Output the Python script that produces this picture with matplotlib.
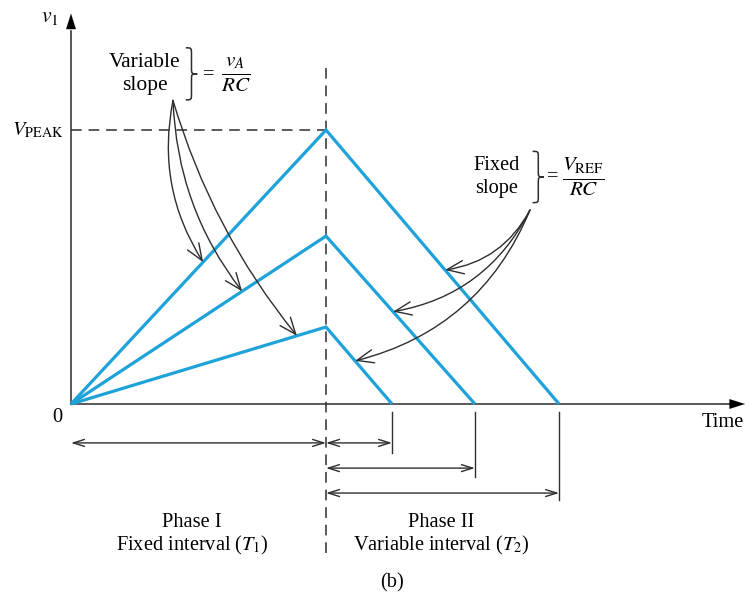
import matplotlib
matplotlib.use("Agg")
import matplotlib.pyplot as plt
from matplotlib.patches import FancyArrowPatch, PathPatch
from matplotlib.path import Path

plt.rcParams["font.family"] = ["Liberation Serif", "DejaVu Serif"]
plt.rcParams["mathtext.fontset"] = "stix"

# integrator output for three input levels
t_switch = 1.0                      # end of phase I (T1)
v_peaks = [1.0, 0.613, 0.281]       # v1 reached at t = T1
t_zero = [1.914, 1.584, 1.259]      # v1 back to zero (end of T2)

# where the slope call-outs land on each ramp
up_hits = [0.518, 0.671, 0.886]
down_hits = [1.467, 1.263, 1.114]

BLUE = "#1ea2da"
INK = "#2e2e2e"

fig = plt.figure(figsize=(7.54, 5.99), dpi=100)
ax = fig.add_axes([0, 0, 1, 1])
ax.set_xlim(-0.2784, 2.6784)
ax.set_ylim(-0.7117, 1.4745)
ax.axis("off")

# axes with arrow tips
ax.plot([0, 0], [0, 1.36], color=INK, lw=1.1)
ax.plot([0, 2.59], [0, 0], color=INK, lw=1.1)
tip = dict(arrowstyle="-|>,head_length=1.1,head_width=0.35",
           color="black", lw=0.1, shrinkA=0, shrinkB=0)
ax.annotate("", xy=(0, 1.425), xytext=(0, 1.33), arrowprops=tip)
ax.annotate("", xy=(2.643, 0), xytext=(2.55, 0), arrowprops=tip)

# dashed guides: T1 boundary and V_PEAK level
ax.plot([t_switch, t_switch], [-0.545, 1.237], color=INK, lw=1.1,
        dashes=(7, 4.5))
ax.plot([0, t_switch], [max(v_peaks)] * 2, color=INK, lw=1.1, dashes=(7, 4.5))

# run-up / run-down ramps
for vp, tz in zip(v_peaks, t_zero):
    ax.plot([0, t_switch, tz], [0, vp, 0], color=BLUE, lw=2.3,
            solid_joinstyle="miter", solid_capstyle="butt", zorder=3)

# interval dimension lines
row_y = [-0.142, -0.234, -0.325]
ext_bottom = [-0.179, -0.266, -0.352]
order = sorted(range(len(t_zero)), key=lambda i: t_zero[i])
dim_style = dict(arrowstyle="<->,head_length=0.8,head_width=0.25",
                 color=INK, lw=1.0, shrinkA=0, shrinkB=0)
ax.annotate("", xy=(0, row_y[0]), xytext=(t_switch, row_y[0]),
            arrowprops=dim_style)
for k, i in enumerate(order):
    ax.plot([t_zero[i], t_zero[i]], [-0.029, ext_bottom[k]], color=INK, lw=1.0)
    ax.annotate("", xy=(t_switch, row_y[k]), xytext=(t_zero[i], row_y[k]),
                arrowprops=dim_style)

# labels
fs = 14.7
ax.text(-0.055, -0.051, "0", fontsize=fs, ha="center", va="center")
ax.text(2.556, -0.069, "Time", fontsize=fs, ha="center", va="center")
ax.text(-0.082, 1.41, r"$v_1$", fontsize=fs + 1, ha="center", va="center")
ax.text(-0.027, 1.0, r"$V_{\mathrm{PEAK}}$", fontsize=fs, ha="right",
        va="center")
ax.text(0.475, -0.434, "Phase I", fontsize=fs, ha="center", va="center")
ax.text(0.475, -0.515, r"Fixed interval ($T_1$)", fontsize=fs, ha="center",
        va="center")
ax.text(1.451, -0.434, "Phase II", fontsize=fs, ha="center", va="center")
ax.text(1.451, -0.515, r"Variable interval ($T_2$)", fontsize=fs,
        ha="center", va="center")
ax.text(1.259, -0.653, "(b)", fontsize=fs, ha="center", va="center")


def brace(x0, y_lo, y_hi, w):
    xm = x0 + w / 2
    ym = (y_lo + y_hi) / 2
    q = (y_hi - y_lo) * 0.12
    verts = [(x0, y_hi), (xm, y_hi), (xm, y_hi), (xm, y_hi - q),
             (xm, ym + q),
             (xm, ym), (xm, ym), (x0 + w, ym),
             (xm, ym), (xm, ym), (xm, ym - q),
             (xm, y_lo + q),
             (xm, y_lo), (xm, y_lo), (x0, y_lo)]
    codes = ([Path.MOVETO] + [Path.CURVE4] * 3 + [Path.LINETO]
             + [Path.CURVE4] * 6 + [Path.LINETO] + [Path.CURVE4] * 3)
    ax.add_patch(PathPatch(Path(verts, codes), fill=False, ec=INK, lw=1.1))


# variable-slope call-out
ax.text(0.29, 1.248, "Variable", fontsize=fs + 0.8, ha="center", va="center")
ax.text(0.29, 1.164, "slope", fontsize=fs + 0.8, ha="center", va="center")
brace(0.45, 1.11, 1.30, 0.045)
ax.text(0.54, 1.204, "=", fontsize=fs, ha="center", va="center")
ax.text(0.648, 1.204, r"$\frac{v_A}{RC}$", fontsize=fs + 7, ha="center",
        va="center")

# fixed-slope call-out
ax.text(1.67, 0.872, "Fixed", fontsize=fs, ha="center", va="center")
ax.text(1.67, 0.785, "slope", fontsize=fs, ha="center", va="center")
brace(1.81, 0.735, 0.922, 0.045)
ax.text(1.89, 0.829, "=", fontsize=fs, ha="center", va="center")
ax.text(2.01, 0.829, r"$\frac{V_{\mathrm{REF}}}{RC}$", fontsize=fs + 7,
        ha="center", va="center")

head = "->,head_length=0.6,head_width=0.24"
for t, vp, rad in zip(up_hits, v_peaks, [0.2, 0.16, 0.1]):
    arr = FancyArrowPatch((0.4, 1.108), (t, vp * t / t_switch),
                          connectionstyle=f"arc3,rad={rad}", arrowstyle=head,
                          color=INK, lw=1.0, shrinkA=0, shrinkB=0,
                          mutation_scale=20, zorder=4)
    ax.add_patch(arr)

for t, vp, tz in zip(down_hits, v_peaks, t_zero):
    y = vp * (1 - (t - t_switch) / (tz - t_switch))
    arr = FancyArrowPatch((1.80, 0.708), (t, y),
                          connectionstyle="arc3,rad=-0.25", arrowstyle=head,
                          color=INK, lw=1.0, shrinkA=0, shrinkB=0,
                          mutation_scale=20, zorder=4)
    ax.add_patch(arr)

fig.savefig("out.png", dpi=100, facecolor="white")
